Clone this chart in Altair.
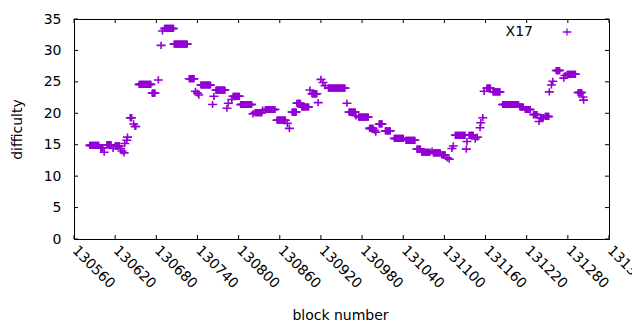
import altair as alt
import pandas as pd

# Runs of (first block, last block, difficulty)
run_start = [130583, 130599, 130604, 130608, 130617, 130620, 130628, 130630, 130633, 130634,
             130637, 130638, 130642, 130647, 130649, 130655, 130674, 130683, 130687, 130689,
             130692, 130706, 130728, 130737, 130740, 130742, 130745, 130762, 130764, 130767,
             130783, 130785, 130790, 130792, 130803, 130821, 130824, 130835, 130839, 130856,
             130871, 130874, 130878, 130885, 130892, 130904, 130907, 130916, 130920, 130923,
             130926, 130931, 130958, 130961, 130971, 130975, 130991, 130998, 131000, 131005,
             131014, 131027, 131044, 131060, 131067, 131082, 131084, 131096, 131104, 131107,
             131111, 131113, 131116, 131132, 131133, 131136, 131145, 131148, 131152, 131153,
             131156, 131158, 131162, 131171, 131185, 131210, 131218, 131230, 131238, 131240,
             131247, 131253, 131256, 131258, 131263, 131274, 131276, 131279, 131295, 131302,
             131303]
run_end = [130596, 130602, 130604, 130614, 130617, 130626, 130628, 130630, 130633, 130634,
           130637, 130638, 130644, 130647, 130650, 130672, 130678, 130683, 130687, 130689,
           130705, 130725, 130735, 130737, 130740, 130742, 130759, 130762, 130764, 130780,
           130783, 130785, 130790, 130801, 130819, 130821, 130834, 130835, 130853, 130868,
           130871, 130874, 130884, 130890, 130902, 130904, 130914, 130916, 130920, 130923,
           130926, 130955, 130958, 130970, 130971, 130989, 130996, 130998, 131000, 131009,
           131021, 131040, 131057, 131065, 131079, 131082, 131094, 131101, 131104, 131107,
           131111, 131113, 131130, 131132, 131133, 131142, 131145, 131148, 131152, 131153,
           131156, 131158, 131167, 131181, 131208, 131215, 131225, 131235, 131238, 131244,
           131252, 131253, 131256, 131258, 131268, 131274, 131276, 131291, 131300, 131302,
           131303]
run_value = [14.9, 14.5, 13.8, 15.0, 14.4, 14.8, 14.4, 14.0, 13.7, 15.2,
             15.7, 16.2, 19.3, 18.3, 17.9, 24.6, 23.2, 25.3, 30.8, 33.1,
             33.5, 31.0, 25.5, 23.5, 23.2, 22.9, 24.5, 21.4, 22.7, 23.7,
             20.8, 21.6, 22.2, 22.7, 21.4, 19.9, 20.1, 20.5, 20.6, 18.9,
             18.4, 17.6, 20.2, 21.6, 21.0, 23.7, 23.1, 21.7, 25.4, 24.9,
             24.4, 24.0, 21.6, 20.2, 19.6, 19.4, 17.6, 17.3, 17.0, 18.3,
             17.2, 16.0, 15.7, 14.3, 13.8, 14.0, 13.7, 13.4, 12.9, 12.7,
             14.4, 14.8, 16.5, 14.3, 15.5, 16.5, 15.9, 16.2, 17.7, 18.5,
             19.3, 23.5, 24.0, 23.4, 21.4, 21.0, 20.6, 19.8, 18.7, 19.3,
             19.5, 23.4, 24.5, 25.1, 26.8, 25.6, 26.0, 26.2, 23.3, 22.6,
             22.1]

x_ticks = [130560, 130620, 130680, 130740, 130800, 130860, 130920, 130980,
           131040, 131100, 131160, 131220, 131280, 131340]
y_ticks = [0, 5, 10, 15, 20, 25, 30, 35]
series_name = "X17"

rows = []
for s, e, v in zip(run_start, run_end, run_value):
    for b in range(s, e + 1):
        rows.append({"block": b, "difficulty": v, "series": series_name})
df = pd.DataFrame(rows)

W, H = 535, 220
FONT = "DejaVu Sans"
PURPLE = "#9400d3"
plus = "M-1,0L1,0M0,-0.8L0,0.8"

xscale = alt.Scale(domain=[130560, 131340], nice=False, zero=False)
yscale = alt.Scale(domain=[0, 35], nice=False, zero=False)
cscale = alt.Scale(domain=[series_name], range=[PURPLE])

x_axis = alt.Axis(values=x_ticks, format="d", labelAngle=45, labelAlign="left",
                  labelBaseline="middle", labelPadding=9, ticks=False, domain=False,
                  grid=False, labelFlush=False, labelOverlap=False, labelBound=False,
                  title="block number", titleX=266, titleY=83,
                  titleBaseline="bottom", titleAlign="center")
y_axis = alt.Axis(values=y_ticks, ticks=False, domain=False, grid=False,
                  labelPadding=13, title="difficulty", titleX=-57, titleY=110,
                  titleBaseline="middle", titleAlign="center", titleAngle=270)

points = alt.Chart(df).mark_point(
    shape=plus, size=81, filled=False, strokeWidth=1.6, opacity=1
).encode(
    x=alt.X("block:Q", scale=xscale, axis=x_axis),
    y=alt.Y("difficulty:Q", scale=yscale, axis=y_axis),
    color=alt.Color("series:N", scale=cscale, legend=None),
)

# key (gnuplot style: label, then sample)
key_df = pd.DataFrame({"series": [series_name]})
key_text = alt.Chart(key_df).mark_text(
    font=FONT, fontSize=14, color="black", align="right", baseline="middle"
).encode(text="series:N", x=alt.value(459), y=alt.value(13))
key_symbol = alt.Chart(key_df).mark_point(
    shape=plus, size=72, filled=False, strokeWidth=1.3, opacity=1
).encode(color=alt.Color("series:N", scale=cscale, legend=None),
         x=alt.value(493), y=alt.value(13))

xt = pd.DataFrame({"block": x_ticks})
yt = pd.DataFrame({"difficulty": y_ticks})
tick_len = 4
bottom_ticks = alt.Chart(xt).mark_rule(color="black", strokeWidth=1).encode(
    x=alt.X("block:Q", scale=xscale, axis=x_axis), y=alt.value(H), y2=alt.value(H - tick_len))
top_ticks = alt.Chart(xt).mark_rule(color="black", strokeWidth=1).encode(
    x=alt.X("block:Q", scale=xscale, axis=x_axis), y=alt.value(0), y2=alt.value(tick_len))
left_ticks = alt.Chart(yt).mark_rule(color="black", strokeWidth=1).encode(
    y=alt.Y("difficulty:Q", scale=yscale, axis=y_axis), x=alt.value(0), x2=alt.value(tick_len))
right_ticks = alt.Chart(yt).mark_rule(color="black", strokeWidth=1).encode(
    y=alt.Y("difficulty:Q", scale=yscale, axis=y_axis), x=alt.value(W - tick_len), x2=alt.value(W))

chart = alt.layer(points, bottom_ticks, top_ticks, left_ticks, right_ticks,
                  key_text, key_symbol).properties(
    width=W, height=H,
    autosize=alt.AutoSizeParams(type="none"),
    padding={"left": 66, "top": 11, "right": 23, "bottom": 83},
    background="white",
).configure_view(
    stroke="black", strokeWidth=1
).configure_axis(
    labelFont=FONT, labelFontSize=14, labelColor="black",
    titleFont=FONT, titleFontSize=14, titleColor="black", titleFontWeight="normal",
)

chart.save("out.html", embed_options={"renderer": "svg", "actions": False})
